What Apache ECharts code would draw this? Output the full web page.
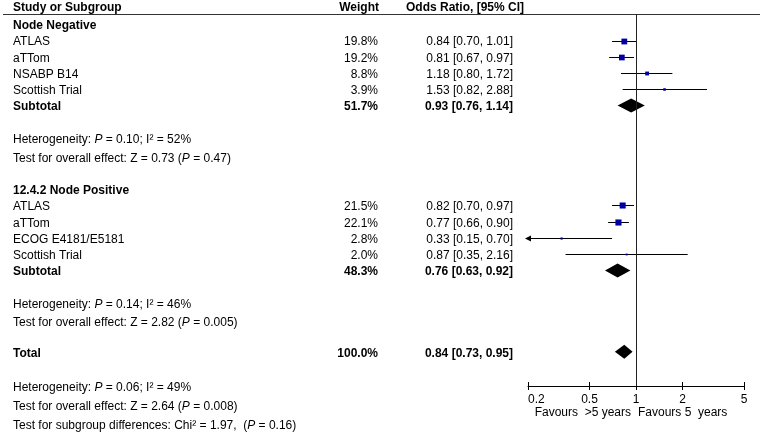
<!DOCTYPE html>
<html>
<head>
<meta charset="utf-8">
<script src="https://cdn.jsdelivr.net/npm/echarts@6/dist/echarts.min.js"></script>
<style>
html,body{margin:0;padding:0;background:#fff;}
#c{width:762px;height:432px;}
</style>
</head>
<body>
<div id="c"></div>
<script>
// ---------------- data ----------------
const headers = ['Study or Subgroup', 'Weight', 'Odds Ratio, [95% CI]'];
const groupNames = ['Node Negative', '12.4.2 Node Positive'];

const negStudies = ['ATLAS', 'aTTom', 'NSABP B14', 'Scottish Trial'];
const negWeight = [19.8, 19.2, 8.8, 3.9];
const negOR = [0.84, 0.81, 1.18, 1.53];
const negLow = [0.70, 0.67, 0.80, 0.82];
const negHigh = [1.01, 0.97, 1.72, 2.88];

const posStudies = ['ATLAS', 'aTTom', 'ECOG E4181/E5181', 'Scottish Trial'];
const posWeight = [21.5, 22.1, 2.8, 2.0];
const posOR = [0.82, 0.77, 0.33, 0.87];
const posLow = [0.70, 0.66, 0.15, 0.35];
const posHigh = [0.97, 0.90, 0.70, 2.16];

const subtotalWeight = [51.7, 48.3];
const subtotalOR = [0.93, 0.76];
const subtotalLow = [0.76, 0.63];
const subtotalHigh = [1.14, 0.92];

const totalWeight = [100.0];
const totalOR = [0.84];
const totalLow = [0.73];
const totalHigh = [0.95];

const hetP = ['0.10', '0.14', '0.06'];
const hetI2 = ['52%', '46%', '49%'];
const effectZ = ['0.73', '2.82', '2.64'];
const effectP = ['0.47', '0.005', '0.008'];
const subgroupChi2 = ['1.97'];
const subgroupP = ['0.16'];

const xTicks = [0.2, 0.5, 1, 2, 5];
const favoursLabels = ['Favours  >5 years', 'Favours 5  years'];

// ---------------- layout ----------------
const FONT = '"Liberation Sans", Arial, Helvetica, sans-serif';
const PITCH = 16.25;
const HEADER_PX = 8;
const GRID_TOP = 14, AXIS_PX = 386;
const PLOT_LEFT = 528, PLOT_RIGHT = 744;
const W = 762, H = 432;
const COL_NAME_X = 13, COL_WEIGHT_R = 378, COL_OR_R = 513, COL_ORHEAD_L = 406;
const TEXT_DY = 1.5;
const X_MIN = xTicks[0], X_MAX = xTicks[xTicks.length - 1];
const SQUARE_COLOR = '#0000a0';

const rows = [];
let cursor = 0;
function addRow(gap, row) { cursor += gap; row.y = cursor; rows.push(row); return row; }

addRow(0, {kind: 'header'});
const groups = [
  {name: groupNames[0], studies: negStudies, w: negWeight, or: negOR, lo: negLow, hi: negHigh},
  {name: groupNames[1], studies: posStudies, w: posWeight, or: posOR, lo: posLow, hi: posHigh}
];
groups.forEach((g, gi) => {
  addRow(gi === 0 ? 1 : 2, {kind: 'group', text: g.name});
  g.studies.forEach((s, i) => addRow(1, {kind: 'study', name: s, w: g.w[i], or: g.or[i], lo: g.lo[i], hi: g.hi[i]}));
  addRow(1, {kind: 'summary', name: 'Subtotal', w: subtotalWeight[gi], or: subtotalOR[gi], lo: subtotalLow[gi], hi: subtotalHigh[gi]});
  addRow(2, {kind: 'het', k: gi});
  addRow(1.15, {kind: 'effect', k: gi});
});
addRow(1.85, {kind: 'summary', name: 'Total', w: totalWeight[0], or: totalOR[0], lo: totalLow[0], hi: totalHigh[0]});
addRow(2.15, {kind: 'het', k: 2});
addRow(1.15, {kind: 'effect', k: 2});
addRow(1.15, {kind: 'subgroup'});

const Y_MIN = (GRID_TOP - HEADER_PX) / PITCH;
const Y_MAX = (AXIS_PX - HEADER_PX) / PITCH;

function fmtCI(r) { return r.or.toFixed(2) + ' [' + r.lo.toFixed(2) + ', ' + r.hi.toFixed(2) + ']'; }

const rich = {
  n: {font: '12px ' + FONT, fill: '#000'},
  i: {font: 'italic 12px ' + FONT, fill: '#000'}
};

function tableItem(params, api) {
  const r = rows[params.dataIndex];
  const cy = api.coord([1, r.y])[1];
  const ty = cy + (r.kind === 'header' ? 0 : TEXT_DY);
  const kids = [];
  const t = (text, x, align, bold) => kids.push({
    type: 'text',
    style: {text: text, x: x, y: ty, align: align, verticalAlign: 'middle', fill: '#000',
            font: (bold ? 'bold ' : '') + '12px ' + FONT}
  });
  const rt = (text) => kids.push({
    type: 'text',
    style: {text: text, rich: rich, x: COL_NAME_X, y: ty, align: 'left', verticalAlign: 'middle',
            font: '12px ' + FONT, fill: '#000'}
  });
  if (r.kind === 'header') {
    t(headers[0], COL_NAME_X, 'left', true);
    t(headers[1], COL_WEIGHT_R + 1, 'right', true);
    t(headers[2], COL_ORHEAD_L, 'left', true);
    const ly = Math.round(api.coord([1, Y_MIN])[1]) + 0.5;
    kids.push({type: 'line', shape: {x1: 3, y1: ly, x2: W - 2, y2: ly}, style: {stroke: '#333', lineWidth: 1.2}});
  } else if (r.kind === 'group') {
    t(r.text, COL_NAME_X, 'left', true);
  } else if (r.kind === 'study' || r.kind === 'summary') {
    const b = r.kind === 'summary';
    t(r.name, COL_NAME_X, 'left', b);
    t(r.w.toFixed(1) + '%', COL_WEIGHT_R, 'right', b);
    t(fmtCI(r), COL_OR_R, 'right', b);
  } else if (r.kind === 'het') {
    rt('{n|Heterogeneity: }{i|P}{n| = ' + hetP[r.k] + '; I² = ' + hetI2[r.k] + '}');
  } else if (r.kind === 'effect') {
    rt('{n|Test for overall effect: Z = ' + effectZ[r.k] + ' (}{i|P}{n| = ' + effectP[r.k] + ')}');
  } else if (r.kind === 'subgroup') {
    rt('{n|Test for subgroup differences: Chi² = ' + subgroupChi2[0] + ',  (}{i|P}{n| = ' + subgroupP[0] + ')}');
  }
  return {type: 'group', children: kids};
}

function studyItem(params, api) {
  const or = api.value(0), y = api.value(1), lo = api.value(2), hi = api.value(3), w = api.value(4);
  const c = api.coord([or, y]);
  const cy = Math.round(c[1]) + 0.5;
  const x0 = api.coord([Math.max(lo, X_MIN), y])[0];
  const x1 = api.coord([Math.min(hi, X_MAX), y])[0];
  const kids = [{type: 'line', shape: {x1: x0, y1: cy, x2: x1, y2: cy}, style: {stroke: '#000', lineWidth: 1}}];
  if (lo < X_MIN) {
    kids.push({type: 'polygon', shape: {points: [[x0 - 3, cy], [x0 + 3, cy - 3], [x0 + 3, cy + 3]]}, style: {fill: '#000'}});
  }
  if (hi > X_MAX) {
    kids.push({type: 'polygon', shape: {points: [[x1 + 3, cy], [x1 - 3, cy - 3], [x1 - 3, cy + 3]]}, style: {fill: '#000'}});
  }
  const s = 1.3 * Math.sqrt(w);
  kids.push({type: 'rect', shape: {x: c[0] - s / 2, y: cy - s / 2, width: s, height: s}, style: {fill: SQUARE_COLOR}});
  return {type: 'group', children: kids};
}

function diamondItem(params, api) {
  const or = api.value(0), y = api.value(1), lo = api.value(2), hi = api.value(3);
  const c = api.coord([or, y]);
  const xl = api.coord([lo, y])[0], xr = api.coord([hi, y])[0];
  const hh = 7;
  return {type: 'polygon', shape: {points: [[xl, c[1]], [c[0], c[1] - hh], [xr, c[1]], [c[0], c[1] + hh]]}, style: {fill: '#000'}};
}

function favoursItem(params, api) {
  const c = api.coord([1, Y_MAX]);
  const y = c[1] + 27;
  return {type: 'group', children: [
    {type: 'text', style: {text: favoursLabels[0], x: c[0] - 5, y: y, align: 'right', verticalAlign: 'middle', fill: '#000', font: '12px ' + FONT}},
    {type: 'text', style: {text: favoursLabels[1], x: c[0] + 2, y: y, align: 'left', verticalAlign: 'middle', fill: '#000', font: '12px ' + FONT}}
  ]};
}

const studyData = rows.filter(r => r.kind === 'study').map(r => [r.or, r.y, r.lo, r.hi, r.w]);
const summaryData = rows.filter(r => r.kind === 'summary').map(r => [r.or, r.y, r.lo, r.hi]);
const tableData = rows.map((r, i) => [1, r.y, i]);

const chart = echarts.init(document.getElementById('c'), null, {renderer: 'canvas', width: W, height: H});
const baseAxis = {
  type: 'log', logBase: 10, min: X_MIN, max: X_MAX, position: 'bottom',
  splitLine: {show: false}, minorTick: {show: false}, minorSplitLine: {show: false}
};
chart.setOption({
  animation: false,
  backgroundColor: '#fff',
  textStyle: {fontFamily: FONT},
  grid: {left: PLOT_LEFT, right: W - PLOT_RIGHT, top: GRID_TOP, bottom: H - AXIS_PX, containLabel: false, outerBoundsMode: 'none'},
  xAxis: [
    Object.assign({}, baseAxis, {
      axisLine: {show: true, lineStyle: {color: '#000', width: 1}},
      axisTick: {show: true, customValues: xTicks, length: 4, inside: false, lineStyle: {color: '#000', width: 1}},
      axisLabel: {show: true, customValues: xTicks, color: '#000', fontSize: 12, fontFamily: FONT, margin: 8,
                  showMinLabel: true, showMaxLabel: true, alignMinLabel: 'left',
                  formatter: v => String(+(+v).toPrecision(3))}
    }),
    Object.assign({}, baseAxis, {
      axisLine: {show: false},
      axisTick: {show: true, customValues: xTicks, length: 4, inside: true, lineStyle: {color: '#000', width: 1}},
      axisLabel: {show: false}
    })
  ],
  yAxis: {type: 'value', inverse: true, min: Y_MIN, max: Y_MAX, show: false, splitLine: {show: false}},
  series: [
    {type: 'custom', name: 'table', coordinateSystem: 'cartesian2d', xAxisIndex: 0, yAxisIndex: 0,
     data: tableData, encode: {x: 0, y: 1}, renderItem: tableItem, clip: false, silent: true},
    {type: 'custom', name: 'diamonds', coordinateSystem: 'cartesian2d', xAxisIndex: 0, yAxisIndex: 0,
     data: summaryData, encode: {x: 0, y: 1}, renderItem: diamondItem, clip: false, silent: true, z: 3,
     markLine: {silent: true, symbol: ['none', 'none'], label: {show: false}, animation: false,
                lineStyle: {color: '#222', width: 1, type: 'solid'}, data: [{xAxis: 1}]}},
    {type: 'custom', name: 'studies', coordinateSystem: 'cartesian2d', xAxisIndex: 0, yAxisIndex: 0,
     data: studyData, encode: {x: 0, y: 1}, renderItem: studyItem, clip: false, silent: true, z: 4},
    {type: 'custom', name: 'favours', coordinateSystem: 'cartesian2d', xAxisIndex: 0, yAxisIndex: 0,
     data: [[1, Y_MAX]], encode: {x: 0, y: 1}, renderItem: favoursItem, clip: false, silent: true}
  ]
});
</script>
</body>
</html>
